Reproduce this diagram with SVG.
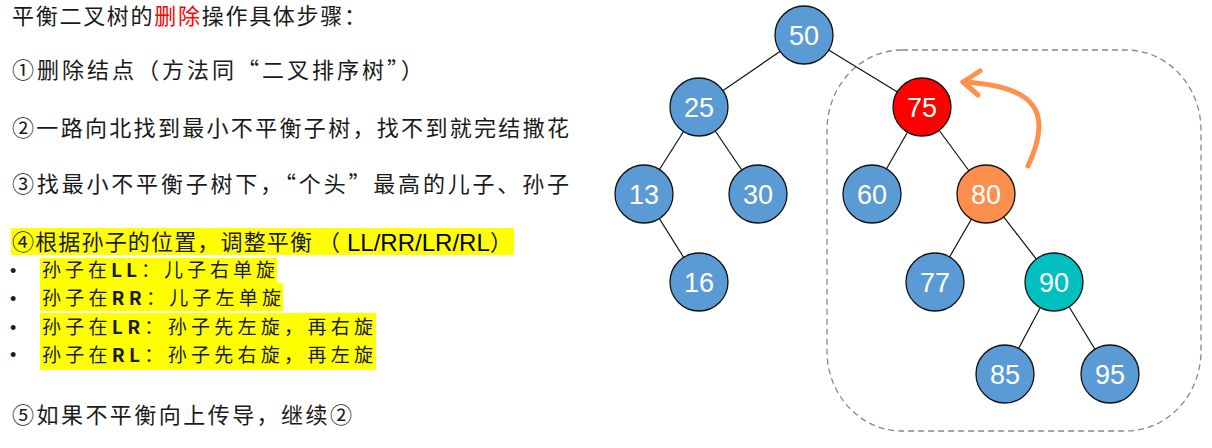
<svg xmlns="http://www.w3.org/2000/svg" width="1212" height="448" viewBox="0 0 1212 448">
<style>
.t{font-family:"Noto Sans CJK SC","Liberation Sans",sans-serif;font-size:22px;fill:#1a1a1a}
.s{font-size:19px}
.b{font-weight:bold}
.hl{fill:#ffff00}
.bul{font-family:"Liberation Sans",sans-serif;font-size:18px;fill:#1a1a1a}
.edge{stroke:#111;stroke-width:1.2;fill:none}
.nd{stroke:#111;stroke-width:1.3}
.blue{fill:#5b9bd5}
.lbl{font-family:"Liberation Sans",Arial,sans-serif;font-size:27px;fill:#fff;text-anchor:middle}
</style>
<rect width="1212" height="448" fill="#fff"/>
<g id="steps">
<text class="t" x="12" y="24" font-size="21" textLength="354" lengthAdjust="spacing">平衡二叉树的<tspan fill="#ff0000">删除</tspan>操作具体步骤：</text>
<text class="t" x="12" y="78" textLength="411" lengthAdjust="spacing">①删除结点（方法同“二叉排序树”）</text>
<text class="t" x="12" y="136" textLength="557" lengthAdjust="spacing">②一路向北找到最小不平衡子树，找不到就完结撒花</text>
<text class="t" x="12" y="192" textLength="557" lengthAdjust="spacing">③找最小不平衡子树下，“个头”最高的儿子、孙子</text>
<rect class="hl" x="11" y="228" width="503" height="27"/>
<text class="t" x="12" y="250" textLength="300" lengthAdjust="spacing">④根据孙子的位置，调整平衡</text>
<text class="t" x="318" y="250">（</text>
<text x="347" y="251" font-family="Liberation Sans,Arial,sans-serif" font-size="24" fill="#000">LL/RR/LR/RL</text>
<text class="t" x="490" y="250">）</text>
<rect class="hl" x="40" y="258" width="237" height="25"/>
<rect class="hl" x="40" y="283" width="243" height="28"/>
<rect class="hl" x="40" y="313" width="336" height="29"/>
<rect class="hl" x="40" y="342" width="336" height="28"/>
<text class="bul" x="10" y="277">•</text>
<text class="bul" x="10" y="305">•</text>
<text class="bul" x="10" y="334">•</text>
<text class="bul" x="10" y="361">•</text>
<text class="t s" x="42" y="277" textLength="233" lengthAdjust="spacing">孙子在<tspan class="b">LL</tspan>：儿子右单旋</text>
<text class="t s" x="42" y="305" textLength="239" lengthAdjust="spacing">孙子在<tspan class="b">RR</tspan>：儿子左单旋</text>
<text class="t s" x="42" y="334" textLength="331" lengthAdjust="spacing">孙子在<tspan class="b">LR</tspan>：孙子先左旋，再右旋</text>
<text class="t s" x="42" y="362" textLength="331" lengthAdjust="spacing">孙子在<tspan class="b">RL</tspan>：孙子先右旋，再左旋</text>
<text class="t" x="12" y="423" textLength="340" lengthAdjust="spacing">⑤如果不平衡向上传导，继续②</text>
</g>
<g id="subtree-box">
<rect x="827" y="50" width="374" height="381" rx="75" ry="80" fill="none" stroke="#888" stroke-width="1.3" stroke-dasharray="6 4"/>
</g>
<g id="connectors">
<line class="edge" x1="804" y1="35" x2="699" y2="107"/>
<line class="edge" x1="804" y1="35" x2="922" y2="107"/>
<line class="edge" x1="699" y1="107" x2="644" y2="194"/>
<line class="edge" x1="699" y1="107" x2="758" y2="194"/>
<line class="edge" x1="644" y1="194" x2="699" y2="282"/>
<line class="edge" x1="922" y1="107" x2="872" y2="194"/>
<line class="edge" x1="922" y1="107" x2="986" y2="194"/>
<line class="edge" x1="986" y1="194" x2="935" y2="282"/>
<line class="edge" x1="986" y1="194" x2="1054" y2="282"/>
<line class="edge" x1="1054" y1="282" x2="1005" y2="374"/>
<line class="edge" x1="1054" y1="282" x2="1110" y2="374"/>
</g>
<g id="n50"><circle class="nd blue" cx="804" cy="35" r="29"/><text class="lbl" x="804" y="45">50</text></g>
<g id="n25"><circle class="nd blue" cx="699" cy="107" r="29"/><text class="lbl" x="699" y="117">25</text></g>
<g id="n75"><circle class="nd" fill="#ff0000" cx="922" cy="107" r="29"/><text class="lbl" x="922" y="117">75</text></g>
<g id="n13"><circle class="nd blue" cx="644" cy="194" r="29"/><text class="lbl" x="644" y="204">13</text></g>
<g id="n30"><circle class="nd blue" cx="758" cy="194" r="29"/><text class="lbl" x="758" y="204">30</text></g>
<g id="n60"><circle class="nd blue" cx="872" cy="194" r="29"/><text class="lbl" x="872" y="204">60</text></g>
<g id="n80"><circle class="nd" fill="#fb8f4b" cx="986" cy="194" r="29"/><text class="lbl" x="986" y="204">80</text></g>
<g id="n16"><circle class="nd blue" cx="699" cy="282" r="29"/><text class="lbl" x="699" y="292">16</text></g>
<g id="n77"><circle class="nd blue" cx="935" cy="282" r="29"/><text class="lbl" x="935" y="292">77</text></g>
<g id="n90"><circle class="nd" fill="#00bfbf" cx="1054" cy="282" r="29"/><text class="lbl" x="1054" y="292">90</text></g>
<g id="n85"><circle class="nd blue" cx="1005" cy="374" r="29"/><text class="lbl" x="1005" y="384">85</text></g>
<g id="n95"><circle class="nd blue" cx="1110" cy="374" r="29"/><text class="lbl" x="1110" y="384">95</text></g>
<g id="rotation-arrow" fill="none" stroke="#ff914d" stroke-width="5" stroke-linecap="round" stroke-linejoin="round">
<path d="M1028,166 C1052,115 1040,86 963,82"/>
<polyline points="980,71 963,82 978,95"/>
</g>
</svg>
